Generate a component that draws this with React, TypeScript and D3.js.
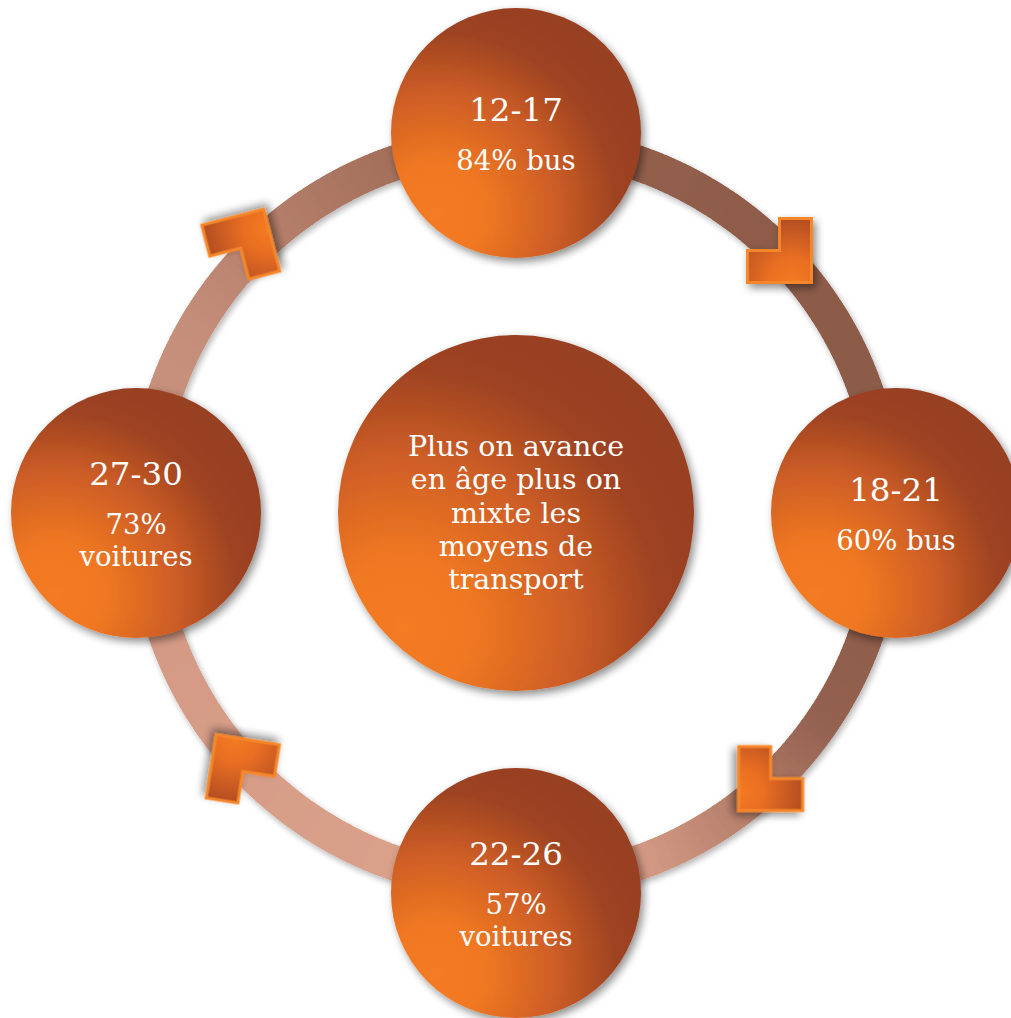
import React from "react";
import * as d3 from "d3";

const ageGroups = ["12-17", "18-21", "22-26", "27-30"];
const shareLines = [["84% bus"], ["60% bus"], ["57%", "voitures"], ["73%", "voitures"]];
const nodeAngles = [0, 90, 180, 270];
const centerLines = ["Plus on avance", "en âge plus on", "mixte les", "moyens de", "transport"];
const arrowAngles = [45.1, 136.2, 226.6, 313.9];
const arrowRadii = [372, 368, 376, 382];
const arrowRotations = [0, 90, 189, 255.5];
// ring colour stops around the circle (degrees clockwise from top)
const ringStopAngles = [0, 45, 100, 125, 140, 160, 200, 250, 300, 335, 360];
const ringStopColors = [
  "#96624f", "#8d5b49", "#8b5a48", "#946250", "#b07a66", "#d39984",
  "#d9a08a", "#d49a85", "#c48e7a", "#a8735f", "#96624f",
];

const W = 1011;
const H = 1018;
const CX = 516;
const CY = 513;
const ORBIT = 380;
const NODE_R = 125;
const CENTER_R = 178;
const RING_IN = 353;
const RING_OUT = 388;
const FONT = "'DejaVu Serif', serif";

function polar(angleDeg: number, r: number): [number, number] {
  const a = (angleDeg * Math.PI) / 180;
  return [CX + r * Math.sin(a), CY - r * Math.cos(a)];
}

export default function App() {
  const ringColor = d3
    .scaleLinear<string>()
    .domain(ringStopAngles)
    .range(ringStopColors)
    .interpolate(d3.interpolateRgb);
  const arcGen = d3.arc();
  const segs = d3.range(0, 360, 1).map((a) => ({
    d: arcGen({
      innerRadius: RING_IN,
      outerRadius: RING_OUT,
      startAngle: ((a - 0.4) * Math.PI) / 180,
      endAngle: ((a + 1.4) * Math.PI) / 180,
    }) as string,
    c: ringColor(a + 0.5),
  }));

  const L = 32;
  const arrowPts: [number, number][] = [
    [-L, 0],
    [0, 0],
    [0, -L],
    [L, -L],
    [L, L],
    [-L, L],
  ];
  const arrowPath = (d3.line()(arrowPts) as string) + "Z";

  return (
    <svg
      width={W}
      height={H}
      style={{ position: "absolute", left: 0, top: 0, background: "#fff" }}
    >
      <defs>
        <radialGradient id="ballGrad" cx="0.18" cy="0.82" r="0.9" fx="0.18" fy="0.82">
          <stop offset="0" stopColor="#f47b20" />
          <stop offset="0.22" stopColor="#f07822" />
          <stop offset="0.55" stopColor="#cb5c26" />
          <stop offset="0.8" stopColor="#9e4320" />
          <stop offset="1" stopColor="#983f20" />
        </radialGradient>
        <radialGradient
          id="arrowGrad"
          gradientUnits="userSpaceOnUse"
          cx={L * 0.4}
          cy={L}
          r={85}
        >
          <stop offset="0" stopColor="#f47b20" />
          <stop offset="0.3" stopColor="#e86e22" />
          <stop offset="1" stopColor="#983c1e" />
        </radialGradient>
        <filter id="shadow" x="-20%" y="-20%" width="140%" height="140%">
          <feGaussianBlur in="SourceAlpha" stdDeviation="4" />
          <feOffset dx="3" dy="4" result="b" />
          <feComponentTransfer>
            <feFuncA type="linear" slope="0.45" />
          </feComponentTransfer>
          <feMerge>
            <feMergeNode />
            <feMergeNode in="SourceGraphic" />
          </feMerge>
        </filter>
        <filter id="ringShadow" x="-10%" y="-10%" width="120%" height="120%">
          <feGaussianBlur in="SourceAlpha" stdDeviation="3" />
          <feOffset dx="2" dy="3" result="b" />
          <feComponentTransfer>
            <feFuncA type="linear" slope="0.3" />
          </feComponentTransfer>
          <feMerge>
            <feMergeNode />
            <feMergeNode in="SourceGraphic" />
          </feMerge>
        </filter>
      </defs>

      <g transform={`translate(${CX},${CY})`} filter="url(#ringShadow)">
        {segs.map((s, i) => (
          <path key={i} d={s.d} fill={s.c} />
        ))}
      </g>

      {arrowAngles.map((a, i) => {
        const [x, y] = polar(a, arrowRadii[i]);
        return (
          <g key={"ar" + i} transform={`translate(${x},${y}) rotate(${arrowRotations[i]})`}>
            <path
              d={arrowPath}
              fill="url(#arrowGrad)"
              stroke="#f5872a"
              strokeWidth={3}
              strokeLinejoin="miter"
              filter="url(#shadow)"
            />
          </g>
        );
      })}

      <circle cx={CX} cy={CY} r={CENTER_R} fill="url(#ballGrad)" filter="url(#shadow)" />
      <text textAnchor="middle" fill="#fff" fontFamily={FONT} fontSize={28.5}>
        {centerLines.map((t, i) => (
          <tspan
            key={i}
            x={CX}
            y={CY + 9.5 + (i - (centerLines.length - 1) / 2) * 33.25}
          >
            {t}
          </tspan>
        ))}
      </text>

      {ageGroups.map((g, i) => {
        const [x, y] = polar(nodeAngles[i], ORBIT);
        const subs = shareLines[i];
        const titleY = y + 12 - (49 + 32 * (subs.length - 1)) / 2;
        return (
          <g key={g}>
            <circle cx={x} cy={y} r={NODE_R} fill="url(#ballGrad)" filter="url(#shadow)" />
            <text
              x={x}
              y={titleY}
              textAnchor="middle"
              fill="#fff"
              fontFamily={FONT}
              fontSize={32.5}
            >
              {g}
            </text>
            <text textAnchor="middle" fill="#fff" fontFamily={FONT} fontSize={27.5}>
              {subs.map((s, j) => (
                <tspan key={j} x={x} y={titleY + 49 + 32 * j}>
                  {s}
                </tspan>
              ))}
            </text>
          </g>
        );
      })}
    </svg>
  );
}
